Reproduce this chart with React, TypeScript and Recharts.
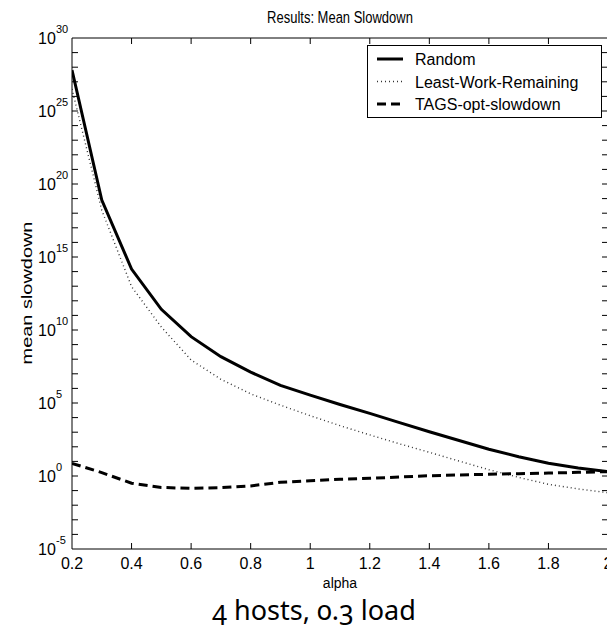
import React from 'react';
import { LineChart, Line, XAxis, YAxis, Legend } from 'recharts';

const alphaValues = [0.2, 0.3, 0.4, 0.5, 0.6, 0.7, 0.8, 0.9, 1.0, 1.1, 1.2, 1.3, 1.4, 1.5, 1.6, 1.7, 1.8, 1.9, 2.0];
const randomValues = [6.3e27, 7.9e18, 1.5e14, 2.6e11, 3.5e9, 1.5e8, 1.3e7, 1.6e6, 3.5e5, 7.9e4, 1.95e4, 4.5e3, 1.07e3, 270, 68, 21, 7.4, 3.5, 2.0];
const lwrValues = [3.2e26, 1.6e18, 9.3e12, 1.6e10, 8.9e7, 4.2e6, 4.2e5, 7.1e4, 1.35e4, 2.8e3, 650, 160, 42, 10.5, 2.7, 0.8, 0.27, 0.13, 0.072];
const tagsValues = [7.4, 1.7, 0.32, 0.166, 0.141, 0.158, 0.21, 0.37, 0.48, 0.6, 0.69, 0.85, 1.05, 1.17, 1.32, 1.45, 1.58, 1.78, 2.0];

const seriesNames = ['Random', 'Least-Work-Remaining', 'TAGS-opt-slowdown'];
const xTicks = [0.2, 0.4, 0.6, 0.8, 1, 1.2, 1.4, 1.6, 1.8, 2];
const yExponentMin = -5;
const yExponentMax = 30;
const yLabelExponents = [-5, 0, 5, 10, 15, 20, 25, 30];

const yTicks: number[] = [];
for (let e = yExponentMin; e <= yExponentMax; e++) yTicks.push(Math.pow(10, e));

const rows = alphaValues.map((a, i) => ({
  alpha: a,
  random: randomValues[i],
  lwr: lwrValues[i],
  tags: tagsValues[i],
}));

const FONT = '"Liberation Sans", Arial, Helvetica, sans-serif';
const TICK_LEN = 6;
const CHART_W = 607;
const CHART_H = 620;
const LEFT_W = 64;
const RIGHT_W = 7;
const TOP_H = 30;
const BOTTOM_H = 79;
const PLOT_LEFT = LEFT_W;
const PLOT_RIGHT = CHART_W - RIGHT_W;
const PLOT_TOP = TOP_H;
const PLOT_BOTTOM = CHART_H - BOTTOM_H;
const TICK_STYLE = { stroke: '#000', strokeWidth: 1, fill: 'none' };

const seriesStyles: Record<string, { w: number; dash?: string; color: string }> = {
  random: { w: 3, color: '#000' },
  lwr: { w: 1.4, dash: '1 3', color: '#333' },
  tags: { w: 3, dash: '9 5', color: '#000' },
};

const nearEdgeX = (x: number) => Math.abs(x - PLOT_LEFT) < 1 || Math.abs(x - PLOT_RIGHT) < 1;
const nearEdgeY = (y: number) => Math.abs(y - PLOT_TOP) < 1 || Math.abs(y - PLOT_BOTTOM) < 1;

const tickPath = (x1: number, y1: number, x2: number, y2: number) => `M${x1},${y1}L${x2},${y2}`;

const BottomTick = (props: any) => {
  const { x, payload } = props;
  const v = payload.value;
  return (
    <g>
      {!nearEdgeX(x) && <path d={tickPath(x, PLOT_BOTTOM, x, PLOT_BOTTOM - TICK_LEN)} style={TICK_STYLE} />}
      <text x={x} y={PLOT_BOTTOM + 20} textAnchor="middle" fontSize={16} fontFamily={FONT} fill="#000">{String(v)}</text>
    </g>
  );
};

const TopTick = (props: any) => {
  const { x } = props;
  if (nearEdgeX(x)) return <g />;
  return <path d={tickPath(x, PLOT_TOP, x, PLOT_TOP + TICK_LEN)} style={TICK_STYLE} />;
};

const LeftTick = (props: any) => {
  const { y, payload } = props;
  const exp = Math.round(Math.log10(payload.value));
  return (
    <g>
      {!nearEdgeY(y) && <path d={tickPath(PLOT_LEFT, y, PLOT_LEFT + TICK_LEN, y)} style={TICK_STYLE} />}
      {yLabelExponents.includes(exp) && (
        <g>
          <text x={PLOT_LEFT - 34} y={y + 6} fontSize={16} fontFamily={FONT} fill="#000">10</text>
          <text x={PLOT_LEFT - 16} y={y - 5} fontSize={11} fontFamily={FONT} fill="#000">{String(exp)}</text>
        </g>
      )}
    </g>
  );
};

const RightTick = (props: any) => {
  const { y } = props;
  if (nearEdgeY(y)) return <g />;
  return <path d={tickPath(PLOT_RIGHT, y, PLOT_RIGHT - TICK_LEN, y)} style={TICK_STYLE} />;
};

const LegendBox = () => {
  const keys = ['random', 'lwr', 'tags'];
  return (
    <svg width={235} height={73} style={{ display: 'block' }}>
      <rect x={0.5} y={0.5} width={234} height={72} fill="#fff" stroke="#000" strokeWidth={1} />
      {keys.map((k, i) => {
        const s = seriesStyles[k];
        const cy = 14 + i * 22.5;
        return (
          <g key={k}>
            <line x1={10} x2={36} y1={cy} y2={cy} stroke={s.color} strokeWidth={s.w} strokeDasharray={s.dash} />
            <text x={48} y={cy + 6} fontSize={16} fontFamily={FONT} fill="#000">{seriesNames[i]}</text>
          </g>
        );
      })}
    </svg>
  );
};

export default function App() {
  return (
    <div style={{ position: 'relative', width: CHART_W, height: CHART_H }}>
      <LineChart width={CHART_W} height={CHART_H} data={rows} margin={{ top: 0, right: 0, bottom: 0, left: 0 }} style={{ overflow: 'visible' }}>
        <XAxis
          xAxisId="b"
          dataKey="alpha"
          type="number"
          domain={[0.2, 2]}
          ticks={xTicks}
          height={BOTTOM_H}
          tickSize={0}
          tickLine={false}
          stroke="#000"
          tick={BottomTick}
          interval={0}
          label={{ value: 'alpha', position: 'insideTop', offset: 29, style: { fill: '#000', fontSize: 14, fontFamily: FONT } }}
          allowDataOverflow
        />
        <XAxis xAxisId="t" orientation="top" type="number" dataKey="alpha" domain={[0.2, 2]} ticks={xTicks} height={TOP_H} tickSize={0} tickLine={false} tick={TopTick} interval={0} stroke="#000" allowDataOverflow />
        <YAxis
          yAxisId="l"
          type="number"
          scale="log"
          domain={[1e-5, 1e30]}
          ticks={yTicks}
          width={LEFT_W}
          tickSize={0}
          tickLine={false}
          tick={LeftTick}
          stroke="#000"
          allowDataOverflow
          interval={0}
        />
        <YAxis yAxisId="r" orientation="right" type="number" scale="log" domain={[1e-5, 1e30]} ticks={yTicks} width={RIGHT_W} tickSize={0} tickLine={false} tick={RightTick} stroke="#000" allowDataOverflow interval={0} />
        <Legend
          layout="vertical"
          align="center"
          verticalAlign="middle"
          content={<LegendBox />}
          wrapperStyle={{ position: 'absolute', left: 359, top: 37, width: 235, height: 73 }}
        />
        <Line xAxisId="b" yAxisId="l" dataKey="random" name={seriesNames[0]} stroke="#000" strokeWidth={3} dot={false} isAnimationActive={false} />
        <Line xAxisId="b" yAxisId="l" dataKey="lwr" name={seriesNames[1]} stroke="#333" strokeWidth={1.4} strokeDasharray="1 3" dot={false} isAnimationActive={false} />
        <Line xAxisId="b" yAxisId="l" dataKey="tags" name={seriesNames[2]} stroke="#000" strokeWidth={3} strokeDasharray="9 5" dot={false} isAnimationActive={false} />
      </LineChart>
      <svg width={CHART_W + 8} height={CHART_H} style={{ position: 'absolute', left: 0, top: 0, pointerEvents: 'none', overflow: 'visible' }}>
        <text transform="translate(332,15) scale(1,1.3)" textAnchor="middle" fontSize={13} fontFamily={FONT} fill="#000">Results: Mean Slowdown</text>
        <text transform="translate(19,285) scale(1,1.33) rotate(-90)" textAnchor="middle" dominantBaseline="central" fontSize={15} fontFamily={FONT} fill="#000">mean slowdown</text>
        <text x={306} y={612} textAnchor="middle" fontSize={27} fontFamily="'Noto Sans', Lato, sans-serif" fill="#000" style={{ fontVariantNumeric: 'oldstyle-nums', fontFeatureSettings: '"onum" 1' }}>4 hosts, 0.3 load</text>
      </svg>
    </div>
  );
}
